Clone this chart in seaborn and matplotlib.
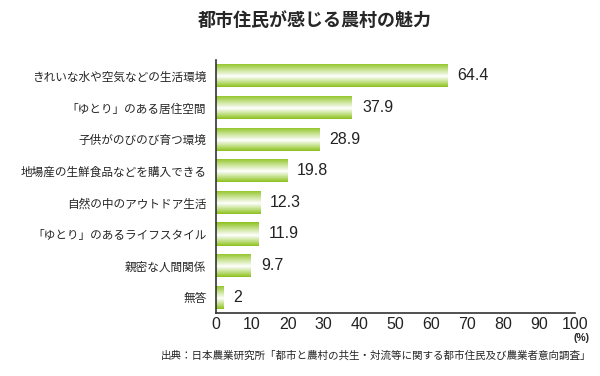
import numpy as np
import pandas as pd
import seaborn as sns
import matplotlib.pyplot as plt
from matplotlib.colors import LinearSegmentedColormap

categories = ['きれいな水や空気などの生活環境', '「ゆとり」のある居住空間', '子供がのびのび育つ環境',
              '地場産の生鮮食品などを購入できる', '自然の中のアウトドア生活', '「ゆとり」のあるライフスタイル',
              '親密な人間関係', '無答']
values = [64.4, 37.9, 28.9, 19.8, 12.3, 11.9, 9.7, 2]
value_labels = ['64.4', '37.9', '28.9', '19.8', '12.3', '11.9', '9.7', '2']
xticks = [0, 10, 20, 30, 40, 50, 60, 70, 80, 90, 100]

df = pd.DataFrame({'item': categories, 'pct': values})

sns.set_style('white')
plt.rcParams['font.family'] = ['Noto Sans CJK JP', 'DejaVu Sans']

fig = plt.figure(figsize=(6, 3.76), dpi=100)
ax = fig.add_axes([0.36, 0.1676, 0.598, 0.6724])

sns.barplot(data=df, x='pct', y='item', orient='h', width=0.73, color='#8dc21f', ax=ax)

# vertical gradient: green edges, white near middle
cmap = LinearSegmentedColormap.from_list('g', [(0, '#8cc11e'), (0.18, '#b5d86a'), (0.55, '#ffffff'),
                                              (0.85, '#b5d86a'), (1, '#8cc11e')])
grad = np.linspace(0, 1, 64).reshape(-1, 1)
for p in list(ax.patches):
    x0, y0 = p.get_x(), p.get_y()
    w, h = p.get_width(), p.get_height()
    im = ax.imshow(grad, cmap=cmap, aspect='auto', extent=[x0, x0 + w, y0 + h, y0],
                   origin='upper', zorder=p.get_zorder() + 0.1)
    im.set_clip_path(p)
    p.set_edgecolor('none')

for i, (v, lab) in enumerate(zip(values, value_labels)):
    ax.text(v + 2.8, i, lab, va='center', ha='left', fontsize=11.5, family='Liberation Sans', color='#222222')

ax.set_xlim(0, 100)
ax.set_ylim(7.5, -0.5)
ax.set_xticks(xticks)
ax.set_xticklabels([str(t) for t in xticks], fontsize=11.5, family='Liberation Sans', color='#222222')
ax.tick_params(axis='x', direction='in', length=5, width=1, color='#333333', pad=3)
ax.tick_params(axis='y', length=0, labelsize=8.4, pad=7)
ax.set_xlabel('')
ax.set_ylabel('')
for s in ['top', 'right']:
    ax.spines[s].set_visible(False)
for s in ['left', 'bottom']:
    ax.spines[s].set_color('#333333')
    ax.spines[s].set_linewidth(1.2)

fig.text(0.525, 0.945, '都市住民が感じる農村の魅力', ha='center', va='center', fontsize=13, fontweight='bold')
fig.text(0.983, 0.1, '(%)', ha='right', va='center', fontsize=7.5, fontweight='bold', family='Liberation Sans')
fig.text(0.985, 0.055, '出典：日本農業研究所「都市と農村の共生・対流等に関する都市住民及び農業者意向調査」',
         ha='right', va='center', fontsize=7.6)

fig.savefig('out.png', dpi=100)
